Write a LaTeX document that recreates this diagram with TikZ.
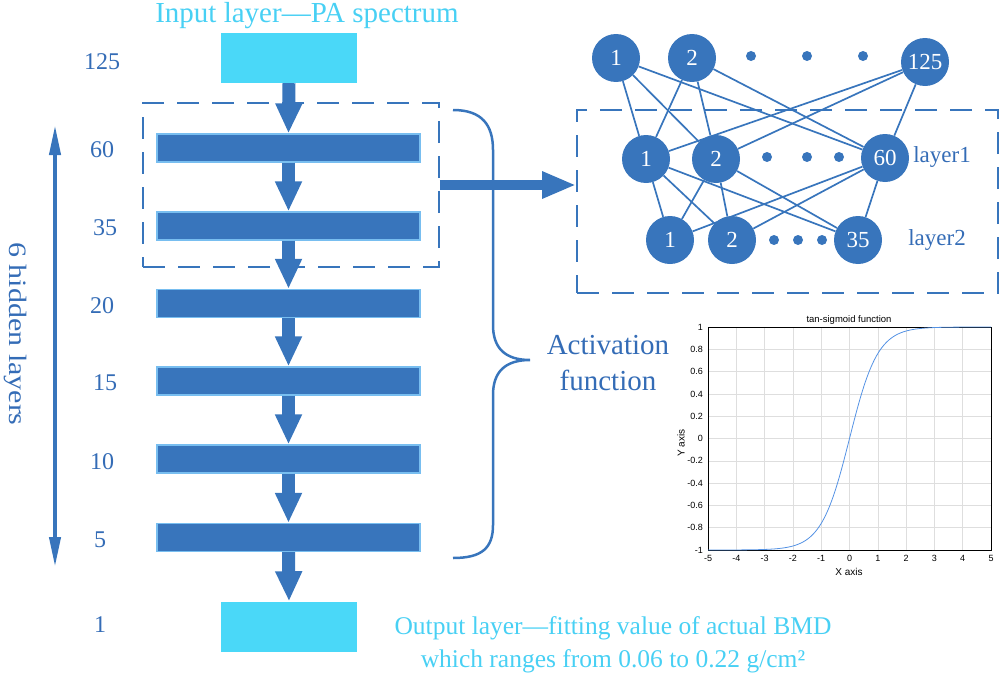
\documentclass[tikz,border=0pt]{standalone}
\usepackage{fontspec}
\setmainfont{Liberation Serif}
\newfontfamily\plotfont{Liberation Sans}
\usetikzlibrary{arrows.meta}
\definecolor{mblue}{RGB}{56,117,188}
\definecolor{tblue}{RGB}{52,108,182}
\definecolor{mcyan}{RGB}{74,216,248}
\definecolor{tcyan}{RGB}{72,208,244}
\definecolor{glowc}{RGB}{120,190,240}
\definecolor{curveblue}{RGB}{84,146,228}
\definecolor{gridc}{RGB}{222,222,222}
\newcommand\fsz[1]{\fontsize{#1}{#1}\selectfont}
\begin{document}
\begin{tikzpicture}[x=1pt,y=-1pt,
  bar/.style={rectangle,fill=mblue,draw=glowc,line width=1.2pt,minimum width=263pt,minimum height=28pt,inner sep=0pt},
  iobox/.style={rectangle,fill=mcyan,minimum width=136pt,minimum height=50pt,inner sep=0pt},
  numlab/.style={text=tblue,font=\fsz{24}},
  flow/.style={draw=mblue,line width=13pt,-{Triangle[length=30pt,width=25pt]}},
  dashbox/.style={draw=mblue,line width=1.8pt,dash pattern=on 22pt off 13pt},
  neuron/.style={circle,fill=mblue,minimum size=48pt,inner sep=0pt,text=white,font=\fsz{23}},
  ndot/.style={circle,fill=mblue,minimum size=10pt,inner sep=0pt},
  edge/.style={draw=mblue,line width=1.7pt},
  laylab/.style={text=tblue,font=\fsz{23}},
  tick/.style={font=\plotfont\fsz{9}},
]
\useasboundingbox (0,0) rectangle (1000,677);

% ---- left stack ----
\node[text=tcyan,font=\fsz{29}] (intext) at (307,16) {Input layer—PA spectrum};
\node[iobox] (in) at (289,58) {};
\node[bar] (b60) at (288.5,148) {};
\node[bar] (b35) at (288.5,226) {};
\node[bar] (b20) at (288.5,303.5) {};
\node[bar] (b15) at (288.5,381) {};
\node[bar] (b10) at (288.5,459) {};
\node[bar] (b5) at (288.5,537.5) {};
\node[iobox] (out) at (289,626.5) {};

\node[numlab] (l125) at (102,62) {125};
\node[numlab] (l60) at (102,150) {60};
\node[numlab] (l35) at (105,228) {35};
\node[numlab] (l20) at (102,306) {20};
\node[numlab] (l15) at (105,383) {15};
\node[numlab] (l10) at (102,462) {10};
\node[numlab] (l5) at (100,540) {5};
\node[numlab] (l1) at (100,625) {1};

\draw[flow] (in.south) -- (b60.north);
\draw[flow] (b60.south) -- (b35.north);
\draw[flow] (b35.south) -- (b20.north);
\draw[flow] (b20.south) -- (b15.north);
\draw[flow] (b15.south) -- (b10.north);
\draw[flow] (b10.south) -- (b5.north);
\draw[flow] (b5.south) -- (out.north);

\node[dashbox,minimum width=296pt,minimum height=164pt,inner sep=0pt] (lbox) at (291,185) {};

% hidden layer count arrow
\coordinate (ha) at (55,125);
\coordinate (hb) at (55,567);
\draw[draw=mblue,line width=4pt,{Triangle[length=30pt,width=11pt]}-{Triangle[length=30pt,width=11pt]}] (ha) -- (hb);
\node[rotate=-90,text=tblue,font=\fsz{25}] (hid) at (15,334) {\scalebox{1.2}[1]{6 hidden layers}};

% brace
\draw[mblue,line width=2.5pt] (453,110) .. controls (482,110) and (493,125) .. (493,150)
  -- (493,325) .. controls (493,348) and (505,360) .. (530,360)
  .. controls (505,360) and (493,372) .. (493,395)
  -- (493,525) .. controls (493,548) and (482,558) .. (453,558);
\node[text=tblue,font=\fsz{29},align=center] (act) at (608,363) {Activation\\[7pt]function};

% ---- network ----
\node[dashbox,minimum width=421pt,minimum height=183pt,inner sep=0pt] (rbox) at (787.5,201.5) {};
\draw[draw=mblue,line width=10pt,-{Triangle[length=34pt,width=25pt]}] (lbox.east) -- (lbox.east -| rbox.west);

\node[neuron] (t1) at (616,58) {1};
\node[neuron] (t2) at (692,58) {2};
\node[ndot] (td1) at (751,56) {};
\node[ndot] (td2) at (807,56) {};
\node[ndot] (td3) at (863,56) {};
\node[neuron] (t125) at (925,62) {125};

\node[neuron] (h1) at (646,159) {1};
\node[neuron] (h2) at (716,159) {2};
\node[ndot] (hd1) at (767,157) {};
\node[ndot] (hd2) at (807,157) {};
\node[ndot] (hd3) at (839,157) {};
\node[neuron] (h60) at (885,158) {60};
\node[laylab] (lay1) at (942,157) {layer1};

\node[neuron] (g1) at (670,240) {1};
\node[neuron] (g2) at (732,240) {2};
\node[ndot] (gd1) at (774,240) {};
\node[ndot] (gd2) at (798,240) {};
\node[ndot] (gd3) at (822,240) {};
\node[neuron] (g35) at (858,240) {35};
\node[laylab] (lay2) at (937,240) {layer2};

\foreach \a in {t1,t2,t125} \foreach \b in {h1,h2,h60} \draw[edge] (\a) -- (\b);
\foreach \a in {h1,h2,h60} \foreach \b in {g1,g2,g35} \draw[edge] (\a) -- (\b);

% ---- plot ----
\foreach \i in {-5,...,5} {
  \draw[gridc,line width=0.6pt] ({849.5+28.3*\i},327) -- ({849.5+28.3*\i},550);
  \draw[gridc,line width=0.6pt] (708,{438.5-22.3*\i}) -- (991,{438.5-22.3*\i});
  \node[tick] at ({849.5+28.3*\i},558) {\i};
}
\foreach \j/\lab in {-5/-1,-4/-0.8,-3/-0.6,-2/-0.4,-1/-0.2,0/0,1/0.2,2/0.4,3/0.6,4/0.8,5/1}
  \node[tick,anchor=east,inner sep=0pt] at (703,{438.5-22.3*\j}) {\lab};
\draw[black,line width=0.7pt] (708,327) rectangle (991,550);
\draw[curveblue,line width=0.8pt] plot[domain=-5:5,samples=120,smooth] ({849.5+28.3*\x},{438.5-111.5*tanh(\x)});
\node[font=\plotfont\fsz{9.5}] (ptitle) at (849,320) {tan-sigmoid function};
\node[font=\plotfont\fsz{10}] (xlab) at (849,572) {X axis};
\node[font=\plotfont\fsz{10},rotate=90] (ylab) at (681,443) {Y axis};

% output text
\node[text=tcyan,font=\fsz{25.5},align=center] (outtext) at (613,645) {Output layer—fitting value of actual BMD\\[8pt]which ranges from 0.06 to 0.22 g/cm²};
\end{tikzpicture}
\end{document}
